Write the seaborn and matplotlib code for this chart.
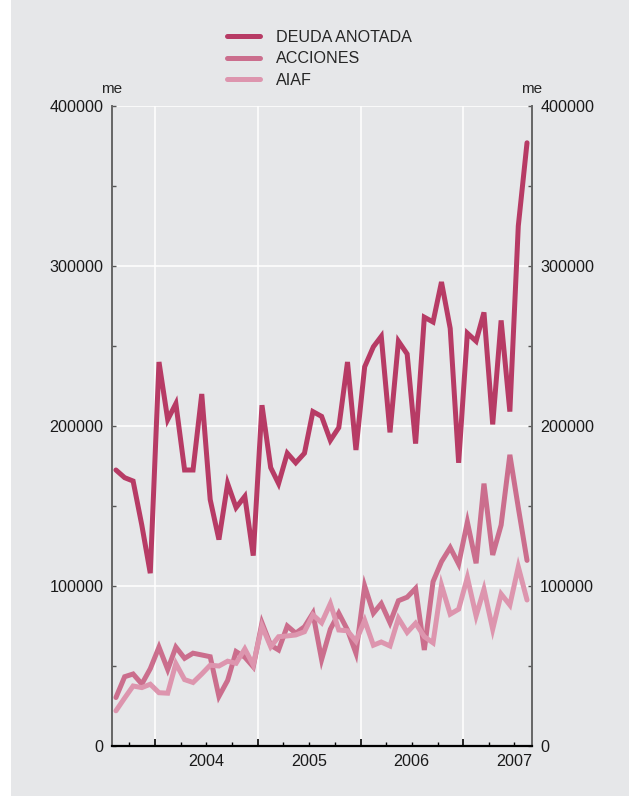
import pandas as pd
import matplotlib
matplotlib.use("Agg")
import matplotlib.pyplot as plt
import matplotlib.dates as mdates
from matplotlib.ticker import MultipleLocator, FuncFormatter
import seaborn as sns

# monthly data, Aug 2003 - Aug 2007 (plotted mid-month)
months = pd.date_range("2003-08-01", periods=49, freq="MS") + pd.Timedelta(days=14)

deuda = [172500, 167700, 165600, 138000, 108000, 240000, 204000, 214000, 172500, 172500,
         220000, 154000, 129000, 164000, 149000, 156000, 119000, 213000, 174000, 164000,
         183000, 177000, 183000, 209000, 206000, 191000, 199000, 240000, 185000, 237000,
         249500, 256000, 196000, 253000, 245000, 189000, 268000, 265000, 290000, 261000,
         177000, 258000, 253000, 271000, 201000, 266000, 209000, 325000, 377000]

acciones = [30300, 43300, 45000, 38750, 48300, 61800, 47800, 61800, 54800, 58000,
            56900, 55800, 31000, 41000, 59000, 55500, 49500, 77000, 63000, 60000,
            75000, 70500, 74500, 83000, 54000, 73000, 83000, 72500, 58000, 100000,
            83000, 89000, 77000, 90800, 93000, 98500, 60000, 102700, 115200, 124000,
            113700, 140000, 114200, 164000, 119400, 138100, 182000, 149000, 116000]

aiaf = [22000, 30000, 37500, 36500, 38600, 33300, 33000, 51500, 41500, 39700,
        45000, 50500, 50000, 53000, 51700, 60700, 50600, 75000, 62000, 68300,
        68800, 69400, 71400, 82000, 77000, 89000, 72500, 72000, 65500, 78500,
        63000, 65000, 62500, 79800, 71000, 76700, 68300, 64500, 100500, 82400,
        85500, 105300, 81300, 98000, 73000, 95000, 88100, 112000, 91250]

series_names = ["DEUDA ANOTADA", "ACCIONES", "AIAF"]
colors = ["#b73b65", "#cb6e8d", "#dd95ae"]

year_mids = pd.to_datetime(["2004-07-01", "2005-07-01", "2006-07-01", "2007-07-01"])
year_labels = ["2004", "2005", "2006", "2007"]

df = pd.DataFrame({
    "fecha": list(months) * 3,
    "valor": deuda + acciones + aiaf,
    "serie": [series_names[0]] * 49 + [series_names[1]] * 49 + [series_names[2]] * 49,
})

bg = "#e6e7e9"
sns.set_theme(style="white", rc={"axes.facecolor": bg, "figure.facecolor": "white"})
plt.rcParams["font.family"] = ["Liberation Sans", "DejaVu Sans"]

fig = plt.figure(figsize=(6.29, 7.96), dpi=100)
fig.add_artist(plt.Rectangle((11 / 629, 0), 1, 1, transform=fig.transFigure,
                             facecolor=bg, edgecolor="none", zorder=-10))
ax = fig.add_axes([112 / 629, 1 - 746 / 796, (531.8 - 112) / 629, 640 / 796])

sns.lineplot(data=df, x="fecha", y="valor", hue="serie", hue_order=series_names,
             palette=colors, linewidth=3.6, errorbar=None, ax=ax)
for line in ax.get_lines():
    line.set_solid_joinstyle("miter")

handles, labels = ax.get_legend_handles_labels()
ax.get_legend().remove()
leg = fig.legend(handles, labels, loc="upper left", bbox_to_anchor=(227 / 629, 1 - 30 / 796),
                 frameon=False, fontsize=11.6, handlelength=2.05, handletextpad=1.0,
                 labelspacing=0.4, borderpad=0, borderaxespad=0)
for h in leg.legend_handles:
    h.set_linewidth(3.6)

ax.set_xlim(pd.Timestamp("2003-08-01"), pd.Timestamp("2007-09-01"))
ax.set_ylim(0, 400000)
ax.set_xlabel("")
ax.set_ylabel("")

ax.yaxis.set_major_locator(MultipleLocator(100000))
ax.yaxis.set_minor_locator(MultipleLocator(50000))
ax.yaxis.set_major_formatter(FuncFormatter(lambda v, p: f"{v:.0f}"))
ax.tick_params(axis="y", which="both", direction="in", length=3, width=1, color="#555555",
               left=True, right=True, labelleft=True, labelright=True,
               labelsize=11.6, pad=6, labelcolor="#1a1a1a")

ax.xaxis.set_major_locator(mdates.YearLocator())
ax.xaxis.set_minor_locator(mdates.MonthLocator(bymonth=[1, 4, 7, 10]))
ax.tick_params(axis="x", which="major", direction="in", length=5, width=1.2,
               color="black", bottom=True, labelbottom=False)
ax.tick_params(axis="x", which="minor", direction="in", length=3, width=1,
               color="black", bottom=True)
ax.grid(True, which="major", color="white", linewidth=1.1)

sec = ax.secondary_xaxis("bottom")
sec.set_xticks(mdates.date2num(year_mids))
sec.set_xticklabels(year_labels)
sec.tick_params(length=0, labelsize=11.6, pad=6, labelcolor="#1a1a1a")
sec.spines["bottom"].set_visible(False)

ax.spines["top"].set_visible(False)
for side in ["left", "right"]:
    ax.spines[side].set_color("#666666")
    ax.spines[side].set_linewidth(1.4)
ax.spines["bottom"].set_color("black")
ax.spines["bottom"].set_linewidth(1.6)

ax.text(0, 1.027, "me", transform=ax.transAxes, ha="center", va="center", fontsize=11)
ax.text(1, 1.027, "me", transform=ax.transAxes, ha="center", va="center", fontsize=11)

fig.savefig("out.png", dpi=100)
